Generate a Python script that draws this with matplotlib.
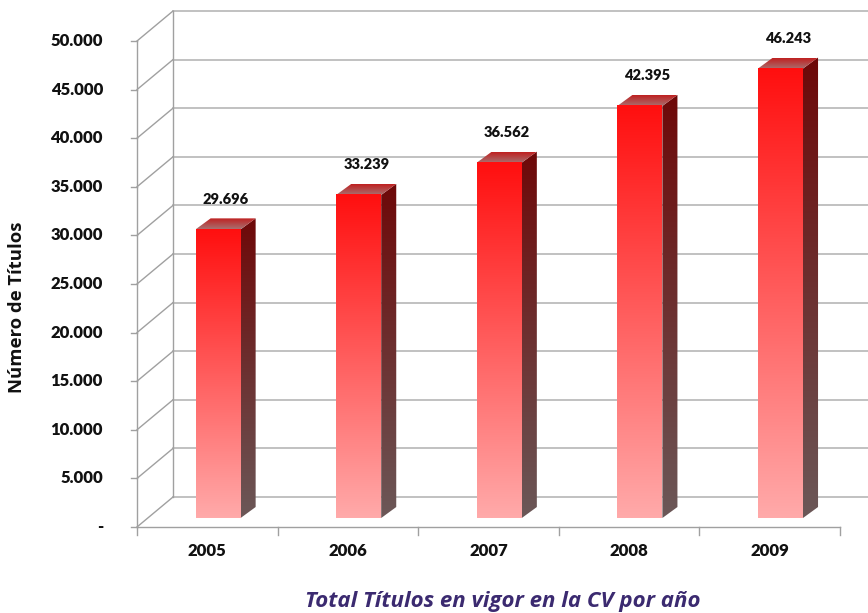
import numpy as np
import matplotlib.pyplot as plt
from matplotlib.patches import Polygon
from matplotlib.colors import to_rgb

years = ['2005', '2006', '2007', '2008', '2009']
values = [29696, 33239, 36562, 42395, 46243]
value_labels = ['29.696', '33.239', '36.562', '42.395', '46.243']
yticks = [0, 5000, 10000, 15000, 20000, 25000, 30000, 35000, 40000, 45000, 50000]
ytick_labels = ['-', '5.000', '10.000', '15.000', '20.000', '25.000',
                '30.000', '35.000', '40.000', '45.000', '50.000']

# 3d look: depth offset of the back wall, in data units
DX, DY = 0.256, 3086
BAR_HALF = 0.16
BAR_POS = 0.3          # where the bar front sits in the depth
BDX, BDY = 0.107, 1130  # bar depth

GRID = '#b0b0b0'
AXIS = '#a0a0a0'
TXT = '#111111'


def vgrad(top, bottom, n=256):
    t = np.linspace(0, 1, n)[:, None]
    a, b = np.array(to_rgb(top)), np.array(to_rgb(bottom))
    return (a * (1 - t) + b * t)[:, None, :].repeat(2, axis=1)


fig = plt.figure(figsize=(8.68, 6.13), dpi=100)
ax = fig.add_axes([0, 0, 1, 1])
ax.axis('off')

n = len(years)
xl, xr = -0.5, n - 0.5

# back wall gridlines, left wall diagonals, y ticks
for v, lab in zip(yticks, ytick_labels):
    ax.plot([xl + DX, xr + DX + 0.3], [v + DY, v + DY], color=GRID, lw=1.1, zorder=1)
    ax.plot([xl, xl + DX], [v, v + DY], color=AXIS, lw=1.0, zorder=1)
    ax.plot([xl - 0.045, xl], [v, v], color=AXIS, lw=1.0, zorder=1)
    ax.annotate(lab, (xl, v), xytext=(-24.5, 0), textcoords='offset points',
                ha='right', va='center', fontsize=12, fontweight='heavy',
                family='Lato', color=TXT)
ax.plot([xl + DX, xl + DX], [DY, yticks[-1] + DY], color=AXIS, lw=1.0, zorder=1)
ax.plot([xl, xl], [0, yticks[-1]], color=AXIS, lw=1.0, zorder=1)
ax.plot([xl, xr], [0, 0], color=AXIS, lw=1.0, zorder=1)
for i in range(n + 1):
    ax.plot([xl + i, xl + i], [0, -820], color=AXIS, lw=1.0, zorder=1)

front_grad = vgrad('#ff0f0f', '#ffaaaa')
side_grad = vgrad('#6e0808', '#6b5858')
top_grad = vgrad('#c02020', '#a87070')

for i, (yr, v, lab) in enumerate(zip(years, values, value_labels)):
    x0 = i - BAR_HALF + BAR_POS * DX
    x1 = i + BAR_HALF + BAR_POS * DX
    y0 = BAR_POS * DY
    y1 = v + BAR_POS * DY
    # side face
    side = Polygon([(x1, y0), (x1 + BDX, y0 + BDY), (x1 + BDX, y1 + BDY), (x1, y1)],
                   closed=True, fc='none', ec='none')
    ax.add_patch(side)
    im = ax.imshow(side_grad, extent=[x1, x1 + BDX, y0, y1 + BDY], aspect='auto',
                   interpolation='bilinear', zorder=3)
    im.set_clip_path(side)
    # top face
    top = Polygon([(x0, y1), (x1, y1), (x1 + BDX, y1 + BDY), (x0 + BDX, y1 + BDY)],
                  closed=True, fc='none', ec='none')
    ax.add_patch(top)
    im = ax.imshow(top_grad, extent=[x0, x1 + BDX, y1, y1 + BDY], aspect='auto',
                   interpolation='bilinear', zorder=3)
    im.set_clip_path(top)
    # front face
    ax.imshow(front_grad, extent=[x0, x1, y0, y1], aspect='auto',
              interpolation='bilinear', zorder=4)
    ax.annotate(lab, ((x0 + x1 + BDX) / 2, y1 + BDY), xytext=(0, 9),
                textcoords='offset points', ha='center', va='bottom',
                fontsize=10.5, fontweight='heavy', family='Lato', color=TXT)
    ax.annotate(yr, (i, 0), xytext=(0, -17.5), textcoords='offset points',
                ha='center', va='center', fontsize=12, fontweight='heavy',
                family='Lato', color=TXT)

fig.text(17 / 868, 1 - 307 / 613, 'Número de Títulos', rotation=90, ha='center',
         va='center', fontsize=13.3, fontweight='bold', family='Open Sans', color=TXT)
fig.text(503 / 868, 1 - 601 / 613, 'Total Títulos en vigor en la CV por año',
         ha='center', va='center', fontsize=16, fontweight='bold', style='italic',
         family='Open Sans', color='#3b2a70')

ppv = 50000 / 486.0
cpp = 1 / 140.6
ax.set_xlim((0 - 137) * cpp - 0.5, (868 - 137) * cpp - 0.5)
ax.set_ylim((527 - 613) * ppv, 527 * ppv)

fig.savefig('out.png', dpi=100)
